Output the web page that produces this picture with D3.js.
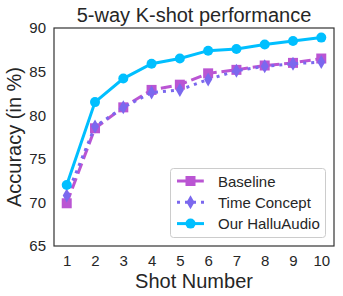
<!DOCTYPE html>
<html>
<head>
<meta charset="utf-8">
<script src="https://cdn.jsdelivr.net/npm/d3@7"></script>
<style>
  body { margin: 0; background: #fff; }
  text { font-family: "Liberation Sans", Arial, sans-serif; fill: #262626; }
</style>
</head>
<body>
<svg id="chart" width="343" height="296"></svg>
<script>
// chart data
const shots = [1, 2, 3, 4, 5, 6, 7, 8, 9, 10];
const baseline = [69.9, 78.5, 80.9, 82.9, 83.5, 84.8, 85.2, 85.7, 86.0, 86.5];
const timeConcept = [70.8, 78.7, 80.9, 82.6, 82.9, 84.1, 85.1, 85.6, 85.9, 86.1];
const halluAudio = [72.0, 81.5, 84.2, 85.9, 86.5, 87.4, 87.6, 88.1, 88.5, 88.9];
const yTicks = [65, 70, 75, 80, 85, 90];

const series = [
  { name: 'Baseline', values: baseline, color: '#BA55D3', dash: '11,4.8', marker: 'square' },
  { name: 'Time Concept', values: timeConcept, color: '#7B68EE', dash: '3,5', marker: 'diamond' },
  { name: 'Our HalluAudio', values: halluAudio, color: '#00BFFF', dash: null, marker: 'circle' }
];

const svg = d3.select('#chart');
const plotLeft = 54, plotRight = 334, plotTop = 28, plotBottom = 246;

const x = d3.scaleLinear().domain([0.55, 10.45]).range([plotLeft, plotRight]);
const y = d3.scaleLinear().domain([65, 90]).range([plotBottom, plotTop]);

// axes (no tick marks, seaborn white style)
const xAxis = svg.append('g')
  .attr('transform', `translate(0,${plotBottom})`)
  .call(d3.axisBottom(x).tickValues(shots).tickSize(0).tickPadding(9));
const yAxis = svg.append('g')
  .attr('transform', `translate(${plotLeft},0)`)
  .call(d3.axisLeft(y).tickValues(yTicks).tickSize(0).tickPadding(8));
[xAxis, yAxis].forEach(a => {
  a.select('.domain').remove();
  a.selectAll('text').style('font-size', '15px').style('font-family', '"Liberation Sans", Arial, sans-serif').attr('fill', '#262626');
});

// frame
svg.append('rect')
  .attr('x', plotLeft).attr('y', plotTop)
  .attr('width', plotRight - plotLeft).attr('height', plotBottom - plotTop)
  .attr('fill', 'none').attr('stroke', '#333').attr('stroke-width', 1.2);

const line = d3.line().x((d, i) => x(shots[i])).y(d => y(d));

function drawMarker(g, type, cx, cy, color) {
  if (type === 'square') {
    g.append('rect').attr('x', cx - 5).attr('y', cy - 5).attr('width', 10).attr('height', 10).attr('fill', color);
  } else if (type === 'diamond') {
    g.append('path').attr('d', `M${cx},${cy - 7}L${cx + 4},${cy}L${cx},${cy + 7}L${cx - 4},${cy}Z`).attr('fill', color);
  } else {
    g.append('circle').attr('cx', cx).attr('cy', cy).attr('r', 5).attr('fill', color);
  }
}

series.forEach(s => {
  const g = svg.append('g');
  g.append('path')
    .datum(s.values)
    .attr('d', line)
    .attr('fill', 'none')
    .attr('stroke', s.color)
    .attr('stroke-width', 3)
    .attr('stroke-dasharray', s.dash);
  s.values.forEach((v, i) => drawMarker(g, s.marker, x(shots[i]), y(v), s.color));
});

// legend
const lg = svg.append('g');
lg.append('rect')
  .attr('x', 170.5).attr('y', 168.5).attr('width', 155).attr('height', 69)
  .attr('rx', 3).attr('fill', '#fff').attr('fill-opacity', 0.8)
  .attr('stroke', '#ccc').attr('stroke-width', 1);
series.forEach((s, i) => {
  const ly = 181 + i * 21.3;
  lg.append('line')
    .attr('x1', 177).attr('x2', 204).attr('y1', ly).attr('y2', ly)
    .attr('stroke', s.color).attr('stroke-width', 3)
    .attr('stroke-dasharray', s.dash);
  drawMarker(lg, s.marker, 190.5, ly, s.color);
  lg.append('text')
    .attr('x', 218).attr('y', ly + 5.5)
    .style('font-size', '15px')
    .text(s.name);
});

// title and axis labels
svg.append('text')
  .attr('x', (plotLeft + plotRight) / 2).attr('y', 22)
  .attr('text-anchor', 'middle')
  .style('font-size', '20px')
  .text('5-way K-shot performance');
svg.append('text')
  .attr('x', (plotLeft + plotRight) / 2).attr('y', 288)
  .attr('text-anchor', 'middle')
  .style('font-size', '20px')
  .text('Shot Number');
svg.append('text')
  .attr('transform', `translate(21,${(plotTop + plotBottom) / 2}) rotate(-90)`)
  .attr('text-anchor', 'middle')
  .style('font-size', '20px')
  .text('Accuracy (in %)');
</script>
</body>
</html>
